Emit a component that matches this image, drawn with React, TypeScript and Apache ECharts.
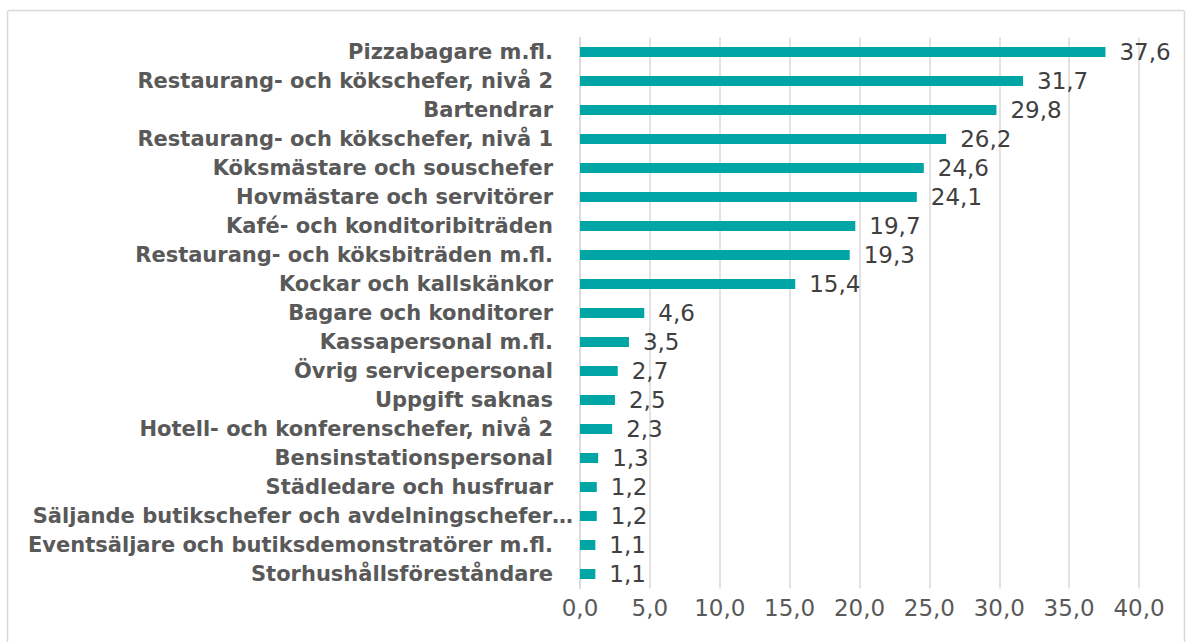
import React, { useEffect, useRef } from "react";
import * as echarts from "echarts";

const categories: string[] = [
  "Pizzabagare m.fl.",
  "Restaurang- och kökschefer, nivå 2",
  "Bartendrar",
  "Restaurang- och kökschefer, nivå 1",
  "Köksmästare och souschefer",
  "Hovmästare och servitörer",
  "Kafé- och konditoribiträden",
  "Restaurang- och köksbiträden m.fl.",
  "Kockar och kallskänkor",
  "Bagare och konditorer",
  "Kassapersonal m.fl.",
  "Övrig servicepersonal",
  "Uppgift saknas",
  "Hotell- och konferenschefer, nivå 2",
  "Bensinstationspersonal",
  "Städledare och husfruar",
  "Säljande butikschefer och avdelningschefer…",
  "Eventsäljare och butiksdemonstratörer m.fl.",
  "Storhushållsföreståndare",
];

const values: number[] = [
  37.6, 31.7, 29.8, 26.2, 24.6, 24.1, 19.7, 19.3, 15.4, 4.6, 3.5, 2.7, 2.5, 2.3,
  1.3, 1.2, 1.2, 1.1, 1.1,
];

const fmt = (v: number) => v.toFixed(1).replace(".", ",");
const FONT = "DejaVu Sans";

export default function App() {
  const ref = useRef<HTMLDivElement>(null);
  useEffect(() => {
    if (!ref.current) return;
    const chart = echarts.init(ref.current, undefined, { renderer: "svg" });
    chart.setOption({
      animation: false,
      backgroundColor: "#ffffff",
      textStyle: { fontFamily: FONT },
      graphic: [
        {
          type: "rect",
          shape: { x: 7.5, y: 10.5, width: 1177, height: 700, r: 2 },
          style: { fill: "none", stroke: "#d9d9d9", lineWidth: 1.5 },
          silent: true,
        },
      ],
      grid: { left: 580, right: 53, top: 37.5, bottom: 53.5, containLabel: false },
      xAxis: {
        type: "value",
        min: 0,
        max: 40,
        interval: 5,
        axisLine: { show: false },
        axisTick: { show: false },
        splitLine: { lineStyle: { color: "#d9d9d9", width: 1.5 } },
        axisLabel: {
          formatter: (v: number) => fmt(v),
          color: "#595959",
          fontSize: 23,
          margin: 8,
          fontFamily: FONT,
        },
      },
      yAxis: {
        type: "category",
        data: categories,
        inverse: true,
        axisLine: { show: true, lineStyle: { color: "#d9d9d9", width: 1.5 } },
        axisTick: { show: false },
        axisLabel: {
          color: "#595959",
          fontSize: 21,
          fontWeight: "bold",
          margin: 27,
          fontFamily: FONT,
          formatter: (v: string) =>
            v.endsWith("…") ? "{e|" + v + "}" : v,
          rich: {
            e: {
              color: "#595959",
              fontSize: 21,
              fontWeight: "bold",
              fontFamily: FONT,
              padding: [0, -20, 0, 0],
            },
          },
        },
      },
      series: [
        {
          type: "bar",
          data: values,
          barWidth: 10,
          itemStyle: { color: "#00a5a5" },
          label: {
            show: true,
            position: "right",
            distance: 14,
            color: "#404040",
            fontSize: 23,
            fontFamily: FONT,
            formatter: (p: any) => fmt(p.value),
          },
        },
      ],
    });
    return () => chart.dispose();
  }, []);
  return (
    <div
      ref={ref}
      style={{ position: "fixed", left: 0, top: 0, width: 1192, height: 642 }}
    />
  );
}
